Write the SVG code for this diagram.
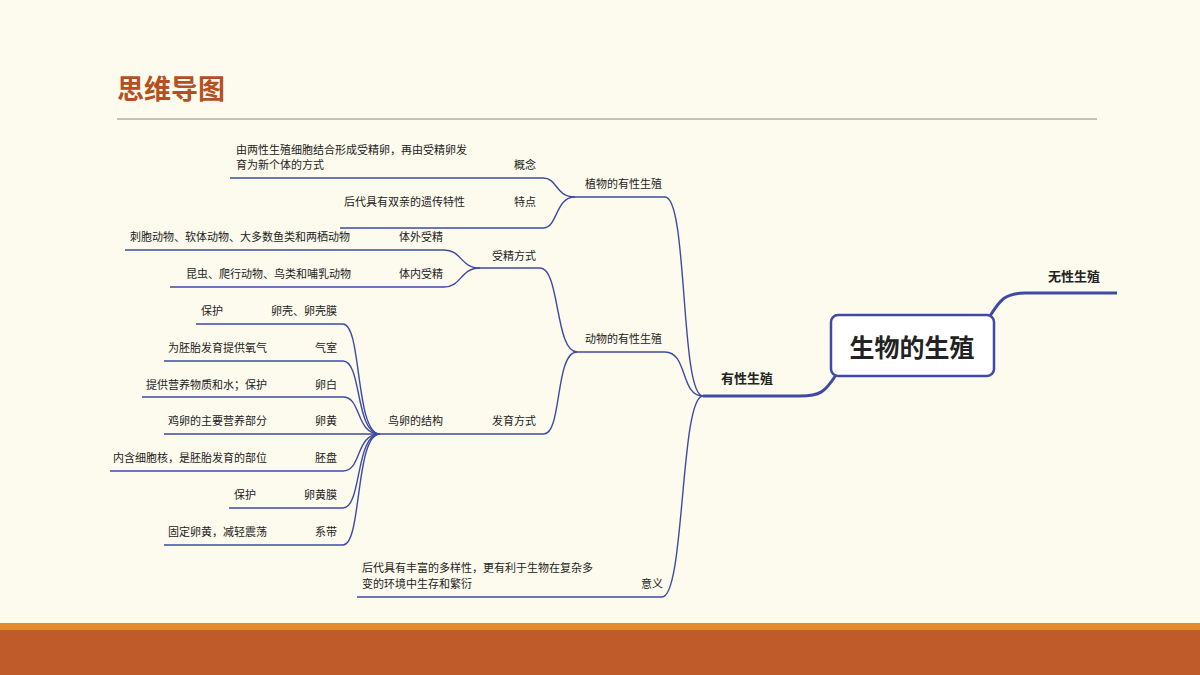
<svg xmlns="http://www.w3.org/2000/svg" width="1200" height="675" viewBox="0 0 1200 675">
<style>
text{font-family:"Noto Sans CJK SC","Noto Sans",sans-serif;fill:#222;font-size:11px}
.c{fill:none;stroke:#3E4AA6;stroke-width:1.4}
.t{fill:none;stroke:#3E4AA6;stroke-width:3}
.e{text-anchor:end}
</style>
<rect width="1200" height="675" fill="#FDFBEE"/>
<text x="117" y="99" style="font-size:27px;font-weight:bold;fill:#B5501E">思维导图</text>
<line x1="117" y1="119" x2="1097" y2="119" stroke="#888" stroke-width="1"/>
<rect x="0" y="623" width="1200" height="7" fill="#E38B2C"/>
<rect x="0" y="630" width="1200" height="45" fill="#BF5A2A"/>
<g id="connectors">
<path class="t" d="M990,316 C1000,300 1005,293 1025,293 L1117,293"/>
<path class="t" d="M836,375 C825,392 820,396 800,396 L703,396"/>
<path class="c" d="M703,396 C680,396 688,197 665,197 L575,197"/>
<path class="c" d="M703,396 C680,396 688,352 665,352 L577,352"/>
<path class="c" d="M703,396 C680,396 685,597 662,597 L357,597"/>
<path class="c" d="M575,197 C555,197 558,178 543,178 L230,178"/>
<path class="c" d="M575,197 C555,197 558,228 543,228 L340,228"/>
<path class="c" d="M577,352 C555,352 560,268 540,268 L480,268"/>
<path class="c" d="M577,352 C555,352 562,434 544,434 L380,434"/>
<path class="c" d="M480,268 C460,268 462,250 444,250 L125,250"/>
<path class="c" d="M480,268 C460,268 462,287 444,287 L170,287"/>
<path class="c" d="M380,434 C355,434 362,324 343,324 L196,324"/>
<path class="c" d="M380,434 C355,434 362,361 343,361 L164,361"/>
<path class="c" d="M380,434 C355,434 362,397 343,397 L142,397"/>
<path class="c" d="M380,434 L164,434"/>
<path class="c" d="M380,434 C355,434 362,471 343,471 L110,471"/>
<path class="c" d="M380,434 C355,434 362,508 343,508 L229,508"/>
<path class="c" d="M380,434 C355,434 362,545 343,545 L164,545"/>
</g>
<g id="root"><rect x="831" y="315" width="163" height="61" rx="7" fill="#FFFFFF" stroke="#3E4AA6" stroke-width="2.5"/><text x="912" y="357" text-anchor="middle" style="font-size:25px;font-weight:bold">生物的生殖</text></g>
<g id="n-wuxing"><text x="1048" y="281" style="font-size:13px;font-weight:bold">无性生殖</text></g>
<g id="n-youxing"><text x="721" y="383" style="font-size:13px;font-weight:bold">有性生殖</text></g>
<g id="n-zhiwu"><text x="585" y="188">植物的有性生殖</text></g>
<g id="n-gainian"><text x="514" y="169">概念</text><text x="236" y="154">由两性生殖细胞结合形成受精卵，再由受精卵发</text><text x="236" y="169">育为新个体的方式</text></g>
<g id="n-tedian"><text x="514" y="206">特点</text><text x="344" y="206">后代具有双亲的遗传特性</text></g>
<g id="n-dongwu"><text x="585" y="343">动物的有性生殖</text></g>
<g id="n-shoujing"><text x="492" y="260">受精方式</text></g>
<g id="n-tiwai"><text x="399" y="241">体外受精</text><text x="130" y="241">刺胞动物、软体动物、大多数鱼类和两栖动物</text></g>
<g id="n-tinei"><text x="399" y="278">体内受精</text><text x="186" y="278">昆虫、爬行动物、鸟类和哺乳动物</text></g>
<g id="n-fayu"><text x="492" y="425">发育方式</text></g>
<g id="n-niaoluan"><text x="388" y="425">鸟卵的结构</text></g>
<g id="n-luanke"><text x="337" y="315" class="e">卵壳、卵壳膜</text><text x="201" y="315">保护</text></g>
<g id="n-qishi"><text x="337" y="352" class="e">气室</text><text x="267" y="352" class="e">为胚胎发育提供氧气</text></g>
<g id="n-luanbai"><text x="337" y="389" class="e">卵白</text><text x="267" y="389" class="e">提供营养物质和水；保护</text></g>
<g id="n-luanhuang"><text x="337" y="425" class="e">卵黄</text><text x="267" y="425" class="e">鸡卵的主要营养部分</text></g>
<g id="n-peipan"><text x="337" y="462" class="e">胚盘</text><text x="267" y="462" class="e">内含细胞核，是胚胎发育的部位</text></g>
<g id="n-luanhuangmo"><text x="337" y="499" class="e">卵黄膜</text><text x="234" y="499">保护</text></g>
<g id="n-xidai"><text x="337" y="536" class="e">系带</text><text x="267" y="536" class="e">固定卵黄，减轻震荡</text></g>
<g id="n-yiyi"><text x="641" y="588">意义</text><text x="362" y="572">后代具有丰富的多样性，更有利于生物在复杂多</text><text x="362" y="588">变的环境中生存和繁衍</text></g>
</svg>
